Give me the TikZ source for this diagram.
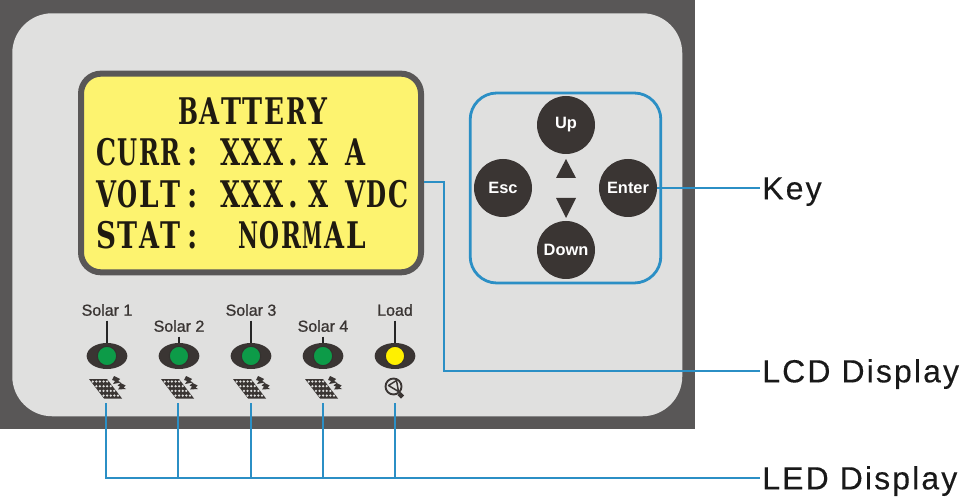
\documentclass[tikz,border=0pt]{standalone}
\usepackage{fontspec}
\usetikzlibrary{shapes.geometric}
\setmainfont{Liberation Sans}
\newfontfamily\lcdfont[FakeStretch=0.76]{DejaVu Serif}
\newfontfamily\calloutfont[LetterSpace=6.6,FakeBold=0.25]{Liberation Sans}
\newfontfamily\ledfont[FakeBold=0.9]{Liberation Sans}
\definecolor{framegrey}{HTML}{595757}
\definecolor{panelgrey}{HTML}{E0E0DF}
\definecolor{lcdyellow}{HTML}{FDF36F}
\definecolor{keydark}{HTML}{3A3533}
\definecolor{ledgreen}{HTML}{0D9B48}
\definecolor{ledyellow}{HTML}{FFF000}
\definecolor{wireblue}{HTML}{2B8FC5}
\definecolor{textdark}{HTML}{1F1A10}
% fixed-pitch setting of the LCD characters
\newsavebox{\lcdcharbox}
\newcommand{\lcdcell}[1]{\sbox{\lcdcharbox}{#1}\makebox[16.2pt][c]{\ifdim\wd\lcdcharbox>15pt\resizebox{15pt}{\height}{#1}\else#1\fi}}
\makeatletter
\newcommand{\lcdmono}[1]{\lcd@next#1\relax}
\newcommand{\lcd@next}[1]{\ifx#1\relax\else\lcdcell{#1}\expandafter\lcd@next\fi}
\makeatother
\newcommand{\lcdnum}{\lcdmono{XXX}\makebox[16.2pt][l]{\kern3pt.}}
\tikzset{
  x=0.75pt,y=-0.75pt,
  wire/.style={draw=wireblue,line width=2.1pt,line join=miter},
  keybtn/.style={circle,fill=keydark,minimum size=43.5pt,inner sep=0pt,text=white,font=\bfseries\fontsize{12.3}{12}\selectfont},
  tri/.style={fill=keydark,draw=none},
  ledbody/.style={ellipse,fill=keydark,minimum width=30.5pt,minimum height=19.5pt,inner sep=0pt},
  ledlamp/.style={circle,draw=keydark!90!black,line width=0.8pt,minimum size=14.5pt,inner sep=0pt},
  ledlabel/.style={text=keydark,inner sep=0pt,text height=8.6pt,text depth=0pt,font=\ledfont\fontsize{12}{12}\selectfont},
  stem/.style={draw=black!85,line width=1.7pt},
  lcdline/.style={anchor=base west,inner sep=0pt,text=textdark,font=\lcdfont\bfseries\fontsize{27.5}{28}\selectfont},
  callout/.style={anchor=west,inner xsep=1.5pt,inner ysep=0pt,text=black!90,text height=17pt,text depth=0pt,font=\calloutfont\fontsize{24}{24}\selectfont},
  solar/.pic={
    \fill[keydark] (-18,-9) -- (0,-9) -- (15,10.5) -- (-3,10.5) -- cycle;
    \foreach \r in {0.13,0.37,0.61,0.85}{
      \foreach \c in {0.1,0.3,0.5,0.7,0.9}{
        \fill[panelgrey] ({-18+18*\c+15*\r},{-9+19.5*\r}) circle (1.25);
      }
    }
    \fill[keydark] (7,-12) -- (13,-9) -- (11,-7) -- (14,-5.5) -- (6,-4) -- (8,-7) -- (5,-8) -- cycle;
    \fill[keydark] (13.5,-5) -- (18.5,-2.5) -- (16.5,-0.5) -- (19,1) -- (11,1.5) -- (13,-1.5) -- (10.5,-2.5) -- cycle;
  },
  bulb/.pic={
    \draw[keydark,line width=1.4pt] (0,0) circle (8);
    \draw[keydark,line width=1.1pt,line join=round] (-5,-1) -- (3,-6) -- (5,5) -- cycle;
    \draw[keydark,line width=3.2pt] (5.5,7) -- (9,10.5);
  }
}
\begin{document}
\begin{tikzpicture}
\useasboundingbox (0,0) rectangle (962,498);
% panel
\node[fill=framegrey,minimum width=521.25pt,minimum height=321.75pt,inner sep=0pt,anchor=north west] (frame) at (0,0) {};
\node[fill=panelgrey,rounded corners=30pt,minimum width=502.5pt,minimum height=302.25pt,inner sep=0pt,anchor=north west] (panel) at (12,13) {};
% LCD
\node[fill=lcdyellow,draw=framegrey,line width=4.5pt,rounded corners=15pt,minimum width=255pt,minimum height=149pt,inner sep=0pt] (lcd) at (251,173) {};
\node[lcdline] (l1a) at (177,125) {\lcdmono{BATTERY}};
\node[lcdline] (l2a) at (95,166) {\lcdmono{CURR:}};
\node[lcdline] (l2b) at (219,166) {\lcdnum};
\node[lcdline] (l2c) at (307,166) {\lcdmono{X}};
\node[lcdline] (l2d) at (344,166) {\lcdmono{A}};
\node[lcdline] (l3a) at (95,208) {\lcdmono{VOLT:}};
\node[lcdline] (l3b) at (219,208) {\lcdnum};
\node[lcdline] (l3c) at (307,208) {\lcdmono{X}};
\node[lcdline] (l3d) at (344,208) {\lcdmono{VDC}};
\node[lcdline] (l4a) at (95,249) {\lcdmono{STAT:}};
\node[lcdline] (l4b) at (237,249) {\lcdmono{NORMAL}};
% key group
\node[draw=wireblue,line width=2.1pt,rounded corners=20pt,minimum width=143pt,minimum height=142.5pt,inner sep=0pt] (keys) at (565.5,188) {};
\node[keybtn] (up) at (566,125) {Up};
\node[keybtn] (esc) at (503,188) {Esc};
\node[keybtn] (enter) at (628,188) {Enter};
\node[keybtn] (down) at (566,250) {Down};
\fill[tri] (566,159) -- (576,178) -- (556,178) -- cycle;
\fill[tri] (556,198) -- (576,198) -- (566,218) -- cycle;
% LEDs
\foreach \n/\x/\y/\t/\c/\w in {s1/107/310/Solar 1/ledgreen/106,s2/179/326/Solar 2/ledgreen/178,s3/251/310/Solar 3/ledgreen/251,s4/323/326/Solar 4/ledgreen/323,ld/395/310/Load/ledyellow/395}{
  \node[ledlabel] (\n lab) at (\x,\y) {\t};
  \node[ledbody] (\n body) at (\x,356) {};
  \node[ledlamp,fill=\c] (\n lamp) at (\x,356) {};
  \draw[stem] ([yshift=-3.5pt]\n lab.south) -- (\n body.north);
  \coordinate (\n tap) at (\w,403);
  \coordinate (\n bus) at (\w,478);
}
\path (107,388) pic {solar} (179,388) pic {solar} (251,388) pic {solar} (323,388) pic {solar} (393.5,386.5) pic {bulb};
% callouts
\node[callout] (keylab) at (760,188) {Key};
\node[callout] (lcdlab) at (760,371) {LCD Display};
\node[callout] (ledlab) at (760,478) {LED Display};
\coordinate (lcdport) at (424,182);
\coordinate (lcdelbow) at (444,182);
% connectors
\draw[wire] (enter.east) -- (keylab.west);
\draw[wire] (lcdport) -- (lcdelbow) |- (lcdlab.west);
\draw[wire] (s1tap) |- (ledlab.west);
\foreach \n in {s2,s3,s4,ld}{\draw[wire] (\n tap) -- (\n bus);}
\end{tikzpicture}
\end{document}
